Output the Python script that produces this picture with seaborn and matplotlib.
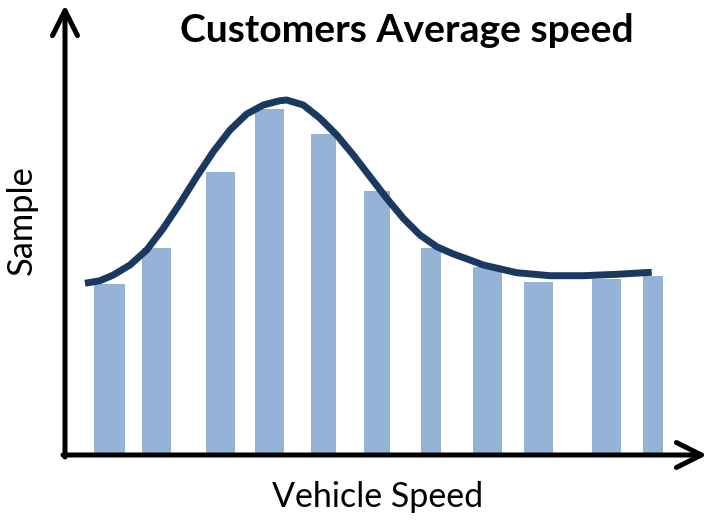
import matplotlib
matplotlib.use("Agg")
import matplotlib.pyplot as plt
import seaborn as sns
import pandas as pd

# ---- data ----
bar_speed = [4.45, 9.15, 15.55, 20.45, 25.85, 31.2, 36.6, 42.25, 47.35, 54.15, 58.8]
bar_width = [3.1, 2.9, 2.9, 2.9, 2.5, 2.6, 2.0, 2.9, 2.9, 2.9, 2.0]
bar_sample = [17.1, 20.7, 28.3, 34.6, 32.1, 26.4, 20.7, 18.8, 17.3, 17.6, 17.9]

curve_speed = [2.0, 3.5, 4.83, 6.5, 8.17, 9.83, 11.5, 13.17, 14.83, 16.5, 18.17, 19.83,
               21.5, 22.17, 23.83, 25.5, 27.17, 28.83, 30.5, 32.17, 33.83, 35.5, 37.17,
               38.83, 40.5, 41.83, 45.17, 48.5, 51.83, 55.17, 58.67]
curve_sample = [17.17, 17.43, 18.0, 19.0, 20.5, 22.67, 25.17, 27.83, 30.33, 32.5, 34.1, 35.0,
                35.43, 35.5, 35.0, 33.67, 32.0, 30.0, 27.83, 25.67, 23.67, 22.0, 20.83,
                20.1, 19.5, 19.0, 18.23, 17.93, 17.93, 18.07, 18.27]

title = "Customers Average speed"
xlabel = "Vehicle Speed"
ylabel = "Sample"

sns.set_theme(style="white")
plt.rcParams["font.family"] = ["Lato", "DejaVu Sans"]

W, H = 710, 522
fig = plt.figure(figsize=(W / 100, H / 100), dpi=100)
ax = fig.add_axes([65 / W, (H - 455) / H, (700 - 65) / W, (455 - 10) / H])
ax.set_xlim(0, 63.5)
ax.set_ylim(0, 44.5)

ax.bar(bar_speed, bar_sample, width=bar_width, color="#95B3D7", linewidth=0, zorder=2)
curve = pd.DataFrame({"speed": curve_speed, "sample": curve_sample})
sns.lineplot(data=curve, x="speed", y="sample", ax=ax, color="#1B3861", lw=5,
             sort=False, solid_capstyle="butt", solid_joinstyle="round", zorder=3)

for s in ax.spines.values():
    s.set_visible(False)
ax.set_xticks([])
ax.set_yticks([])
ax.set_xlabel("")
ax.set_ylabel("")

# axes arrows (figure pixel coords)
arrow_kw = dict(arrowstyle="->,head_length=1.8,head_width=0.9", lw=3.6, color="black",
                shrinkA=0, shrinkB=0, mutation_scale=10, capstyle="round",
                joinstyle="round")
fig.add_artist(matplotlib.patches.FancyArrowPatch((65, H - 457), (65, H - 5),
               transform=None, **arrow_kw))
fig.add_artist(matplotlib.patches.FancyArrowPatch((63, H - 455), (707, H - 455),
               transform=None, **arrow_kw))

renderer = fig.canvas.get_renderer()

def fit(txt, target_w, vertical=False):
    bb = txt.get_window_extent(renderer)
    cur = bb.height if vertical else bb.width
    txt.set_fontsize(txt.get_fontsize() * target_w / cur)

t = fig.text(406.5 / W, 1 - 30 / H, title, ha="center", va="center",
             fontweight="bold", fontsize=26, color="black")
fit(t, 453)
xl = fig.text(377.5 / W, 1 - 497 / H, xlabel, ha="center", va="center",
              fontsize=22, color="black")
fit(xl, 211)
yl = fig.text(22 / W, 1 - 220 / H, ylabel, ha="center", va="center",
              rotation=90, fontsize=22, color="black")
fit(yl, 110, vertical=True)

fig.savefig("out.png", dpi=100)
